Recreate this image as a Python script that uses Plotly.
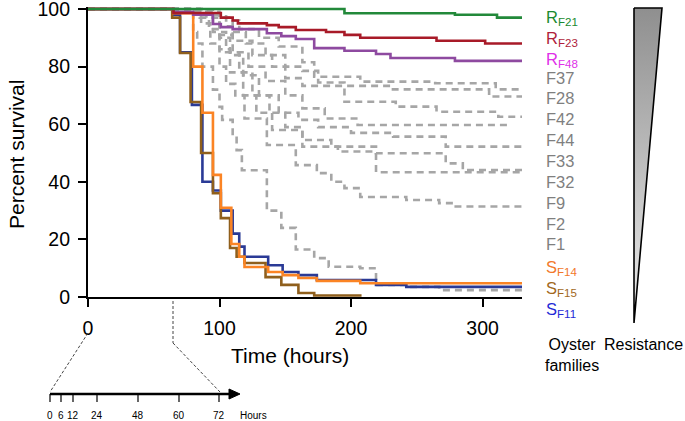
import plotly.graph_objects as go

W, H = 685, 421

# ---------------- data ----------------
time_RF21 = [0, 195, 279, 311, 330]
surv_RF21 = [100, 98.5, 98, 97, 97]

time_RF23 = [0, 65, 101, 110, 114, 136, 145, 158, 181, 195, 207, 265, 302, 330]
surv_RF23 = [100, 98.6, 97, 96, 95, 94.4, 93.7, 92.7, 92, 91, 90, 89, 88, 88]

time_RF48 = [0, 65, 80, 95, 101, 110, 136, 147, 158, 172, 195, 219, 230, 279, 330]
surv_RF48 = [100, 99, 98, 94.8, 93.7, 93, 91.6, 90.6, 89.6, 86.4, 85.5, 84.4, 83, 82, 82]

time_F37 = [0, 80, 95, 105, 115, 130, 145, 163, 172, 207, 264, 310, 330]
surv_F37 = [100, 99.5, 98, 96, 93, 90, 87, 81.5, 76.5, 74.8, 74.2, 72.1, 72.1]
time_F28 = [0, 85, 100, 110, 120, 135, 150, 163, 175, 195, 230, 305, 330]
surv_F28 = [100, 99, 97, 92, 88, 84, 80, 78.5, 74.5, 73.3, 72.1, 69.6, 69.6]
time_F42 = [0, 85, 100, 110, 125, 140, 150, 163, 195, 234, 265, 312, 330]
surv_F42 = [100, 98.5, 94, 89, 84, 80, 76, 73.3, 67.8, 66.1, 64.3, 62.6, 62.6]
time_F44 = [0, 88, 100, 110, 122, 135, 150, 163, 180, 205, 322]
surv_F44 = [100, 98, 91, 85, 80, 75, 70, 65.5, 62, 59.7, 59.7]
time_F33 = [0, 90, 100, 108, 118, 130, 145, 160, 175, 200, 232, 272, 330]
surv_F33 = [100, 97, 90, 84, 77, 70, 64, 61.5, 59, 57, 55.7, 52.2, 52.2]
time_F32 = [0, 85, 95, 105, 115, 125, 138, 150, 163, 185, 219, 272, 285, 330]
surv_F32 = [100, 97, 92, 85, 78, 70, 64, 59, 54.5, 52.2, 49.9, 46.4, 44.1, 44.1]
time_F9 = [0, 80, 92, 100, 108, 118, 128, 140, 163, 190, 219, 330]
surv_F9 = [100, 98, 93, 86, 78, 70, 64, 58, 52.2, 50.5, 43.3, 43.3]
time_F2 = [0, 78, 86, 93, 100, 105, 112, 119, 136, 158, 174, 185, 195, 207, 242, 267, 278, 330]
surv_F2 = [100, 99, 95, 88, 80, 74, 70, 62, 52.8, 45.8, 43, 40, 37.8, 34.7, 33.7, 32.6, 31.4, 31.4]
time_F1 = [0, 75, 80, 83, 87, 95, 100, 102, 110, 113, 117, 136, 147, 158, 172, 183, 207, 219, 242, 267, 330]
surv_F1 = [100, 99, 92, 88, 80, 72, 66, 61.5, 56, 51, 44, 30, 24, 16.5, 13.5, 10.5, 10, 4.2, 3.5, 2.4, 2.4]

time_SF14 = [0, 65, 80, 87, 95, 101, 109, 115, 119, 137, 148, 160, 174, 207, 330]
surv_SF14 = [100, 98.5, 80, 64, 42.4, 31, 18.4, 14, 10.4, 8.7, 7.6, 6.6, 5.6, 4.8, 4.8]
time_SF15 = [0, 64, 70, 78, 86, 95, 101, 108, 113, 119, 135, 147, 160, 172, 208]
surv_SF15 = [100, 97, 84.7, 67.7, 50, 36, 27.4, 17, 14, 11.8, 6.9, 4.2, 1.4, 0.5, 0.5]
time_SF11 = [0, 65, 70, 79, 87, 95, 101, 110, 115, 119, 137, 148, 160, 174, 219, 242, 330]
surv_SF11 = [100, 98, 85, 66.7, 40, 37, 30, 22, 17.5, 14, 11, 8.7, 7.6, 5.9, 4.2, 3.5, 3.5]

x_ticks = [0, 100, 200, 300]
y_ticks = [0, 20, 40, 60, 80, 100]

family_labels = ["R<sub>F21</sub>", "R<sub>F23</sub>", "R<sub>F48</sub>", "F37", "F28", "F42",
                 "F44", "F33", "F32", "F9", "F2", "F1",
                 "S<sub>F14</sub>", "S<sub>F15</sub>", "S<sub>F11</sub>"]
inset_tick_labels = ["0", "6", "12", "24", "48", "60", "72"]

# ---------------- styles ----------------
FONT = "Liberation Sans, Arial, sans-serif"
GRAY = "#a6a6a6"
label_colors = ["#1a8a30", "#b01e3c", "#e030e8"] + ["#7f7f7f"] * 9 + ["#f2782a", "#a2681c", "#1f2ad6"]

def PX(x):
    return x / W

def PY(y):
    return 1 - y / H

fig = go.Figure()

gray_series = [(time_F37, surv_F37), (time_F28, surv_F28), (time_F42, surv_F42),
               (time_F44, surv_F44), (time_F33, surv_F33), (time_F32, surv_F32),
               (time_F9, surv_F9), (time_F2, surv_F2), (time_F1, surv_F1)]
for t, v in gray_series:
    fig.add_trace(go.Scatter(x=t, y=v, mode="lines", line_shape="hv",
                             line=dict(color=GRAY, width=2.6, dash="7px,5px"),
                             hoverinfo="skip", showlegend=False))

colored = [(time_SF11, surv_SF11, "#2a3a96"),
           (time_SF15, surv_SF15, "#8f5f1c"),
           (time_SF14, surv_SF14, "#fb8424"),
           (time_RF48, surv_RF48, "#8e4aa0"),
           (time_RF23, surv_RF23, "#a81a28"),
           (time_RF21, surv_RF21, "#22893a")]
for t, v, c in colored:
    fig.add_trace(go.Scatter(x=t, y=v, mode="lines", line_shape="hv",
                             line=dict(color=c, width=2.6),
                             hoverinfo="skip", showlegend=False))

# resistance triangle (decoration) on a pixel overlay axis
fig.add_trace(go.Scatter(x=[634, 662, 634, 634], y=[8, 8, 323, 8], xaxis="x2", yaxis="y2",
                         mode="lines", fill="toself",
                         fillgradient=dict(type="vertical", start=323, stop=8,
                                           colorscale=[[0, "#ececec"], [1, "#8f8f8f"]]),
                         line=dict(color="black", width=1.6),
                         hoverinfo="skip", showlegend=False))

# main axes: plot area 88..522 px horizontally, y=0 at 297 px and 100 at 9 px
y_top = 100.8
top_px = 297 - y_top * 2.88
fig.update_layout(
    template="none",
    width=W, height=H,
    margin=dict(l=0, r=0, t=0, b=0, pad=0, autoexpand=False),
    paper_bgcolor="white", plot_bgcolor="rgba(0,0,0,0)",
    font=dict(family=FONT, color="black"),
    xaxis=dict(domain=[PX(88), PX(522)], range=[0, 330], showgrid=False, zeroline=False,
               showline=True, linecolor="black", linewidth=2.2, automargin=False,
               ticks="outside", ticklen=8, tickwidth=2.2, tickcolor="black",
               tickvals=x_ticks, tickfont=dict(size=19.5, family=FONT), ticklabelstandoff=4,
               ticklabeloverflow="allow", anchor="y"),
    yaxis=dict(domain=[PY(297), PY(top_px)], range=[0, y_top], showgrid=False, zeroline=False,
               showline=True, linecolor="black", linewidth=2.2, automargin=False,
               ticks="outside", ticklen=8, tickwidth=2.2, tickcolor="black",
               tickvals=y_ticks, tickfont=dict(size=19.5, family=FONT), ticklabelstandoff=4,
               ticklabeloverflow="allow", anchor="x"),
    xaxis2=dict(domain=[0, 1], range=[0, W], visible=False, anchor="y2", automargin=False),
    yaxis2=dict(domain=[0, 1], range=[H, 0], visible=False, anchor="x2", automargin=False),
)

ann = []
# axis titles
ann.append(dict(text="Percent survival", x=PX(16), y=PY(155), textangle=-90,
                font=dict(size=21, family=FONT)))
ann.append(dict(text="Time (hours)", x=PX(290), y=PY(355), font=dict(size=21, family=FONT)))
ann.append(dict(text="Oyster<br>families", x=PX(572), y=PY(355), font=dict(size=16, family=FONT)))
ann.append(dict(text="Resistance", x=PX(643), y=PY(344), font=dict(size=16, family=FONT)))

# family labels
for i, (lab, col) in enumerate(zip(family_labels, label_colors)):
    yc = 15 + 20.86 * i + (3 if "<sub>" in lab else 0)
    ann.append(dict(text=lab, x=PX(544), y=PY(yc), xanchor="left", yanchor="middle",
                    font=dict(size=16.5, color=col, family=FONT)))

# inset hour axis
inset_px = [50, 61, 73, 97, 138, 179, 219]
for lab, xp in zip(inset_tick_labels, inset_px):
    ann.append(dict(text=lab, x=PX(xp), y=PY(415), font=dict(size=10, family=FONT)))
ann.append(dict(text="Hours", x=PX(238), y=PY(415), xanchor="left", font=dict(size=10, family=FONT)))

for a in ann:
    a.setdefault("xref", "paper")
    a.setdefault("yref", "paper")
    a.setdefault("showarrow", False)
    a.setdefault("xanchor", "center")
    a.setdefault("yanchor", "middle")
fig.update_layout(annotations=ann)

shapes = []
shapes.append(dict(type="line", x0=PX(50), x1=PX(232), y0=PY(394), y1=PY(394),
                   line=dict(color="black", width=2.5)))
shapes.append(dict(type="path",
                   path=f"M {PX(229)} {PY(389)} L {PX(240)} {PY(394)} L {PX(229)} {PY(399)} Z",
                   fillcolor="black", line=dict(color="black", width=1)))
for xp in inset_px:
    shapes.append(dict(type="line", x0=PX(xp), x1=PX(xp), y0=PY(394), y1=PY(402),
                       line=dict(color="black", width=1.2)))
# dashed connectors
shapes.append(dict(type="line", x0=PX(88), x1=PX(50), y0=PY(333), y1=PY(392),
                   line=dict(color="#444", width=1, dash="3px,2px")))
shapes.append(dict(type="line", x0=PX(173), x1=PX(173), y0=PY(301), y1=PY(343),
                   line=dict(color="#444", width=1, dash="3px,2px")))
shapes.append(dict(type="line", x0=PX(173), x1=PX(220), y0=PY(343), y1=PY(392),
                   line=dict(color="#444", width=1, dash="3px,2px")))
for s in shapes:
    s["xref"] = "paper"
    s["yref"] = "paper"
fig.update_layout(shapes=shapes)

fig.write_html("out.html", config={"displayModeBar": False},
               post_script="document.body.style.margin='0px'; document.body.style.overflow='hidden';")
